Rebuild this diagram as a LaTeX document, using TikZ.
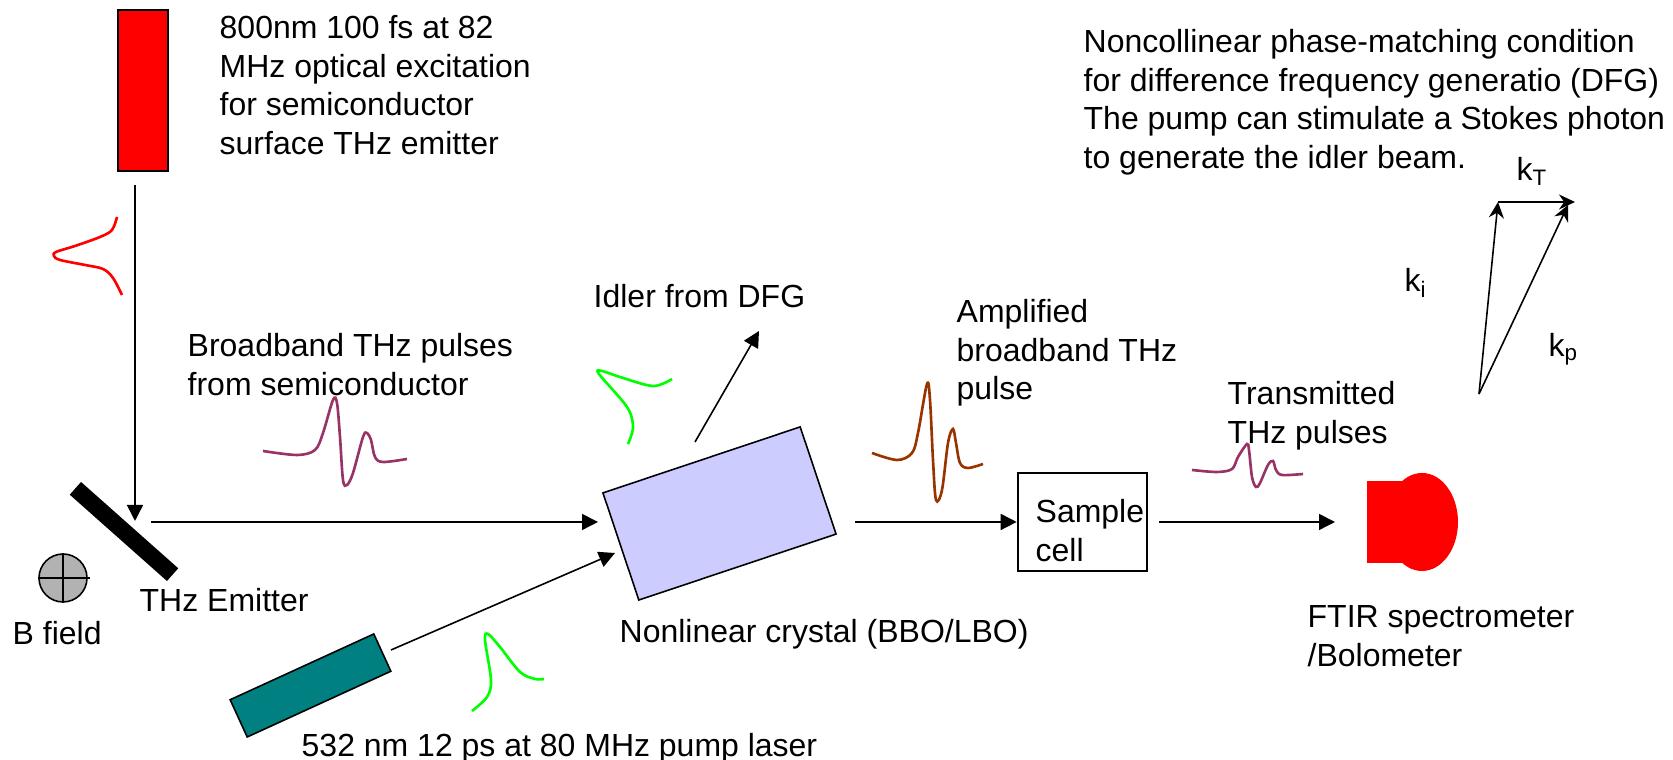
\documentclass[tikz,border=0pt]{standalone}
\usepackage{fontspec}
\setmainfont{Liberation Sans}
\usetikzlibrary{arrows.meta, positioning, calc, shapes.geometric}
\definecolor{thzpurple}{HTML}{993366}
\definecolor{thzbrown}{HTML}{993300}
\definecolor{crystalblue}{HTML}{CCCCFF}
\definecolor{pumpteal}{HTML}{008080}
\definecolor{fieldgrey}{HTML}{B2B2B2}
\definecolor{pulsegreen}{HTML}{00FF00}
\tikzset{
  textlabel/.style={anchor=north west, inner sep=0pt, align=left, font=\fontsize{9.1}{10.95}\selectfont},
  beam/.style={line width=0.45pt, -{Triangle[length=1.6mm,width=1.6mm]}},
  wavevec/.style={line width=0.45pt, -{Stealth[length=1.6mm,width=1.5mm]}},
  pulse/.style={line width=0.75pt, smooth, tension=0.55},
  optic/.style={draw=black, line width=0.45pt, inner sep=0pt}
}

\begin{document}
\begin{tikzpicture}
      \useasboundingbox (0,0) rectangle (16.73,7.6);

      % sources and optics
      \node[optic, fill=red, minimum width=0.5cm, minimum height=1.61cm] (laser) at (1.43,6.695) {};
      \node[fill=black, inner sep=0pt, minimum width=1.3cm, minimum height=0.17cm, rotate=-41.6] (emitter) at (1.24,2.285) {};
      \node[optic, circle, fill=fieldgrey, minimum size=0.48cm] (bfield) at (0.63,1.82) {};
      \draw[line width=0.45pt] (bfield.north) -- (bfield.south);
      \draw[line width=0.45pt] (bfield.west) -- ($(bfield.east)+(0.02,0)$);
      \node[optic, fill=crystalblue, minimum width=2.08cm, minimum height=1.13cm, rotate=18.5] (crystal) at (7.195,2.465) {};
      \node[optic, fill=pumpteal, minimum width=1.58cm, minimum height=0.41cm, rotate=24.6] (pump) at (3.105,0.745) {};
      \node[draw=black, line width=0.75pt, inner sep=0pt, minimum width=1.29cm, minimum height=0.98cm] (samplecell) at (10.825,2.38) {};
      \node[ellipse, fill=red, inner sep=0pt, minimum width=0.72cm, minimum height=0.98cm] (ftir) at (14.22,2.38) {};
      \node[fill=red, inner sep=0pt, minimum width=0.36cm, minimum height=0.82cm] (ftirbase) at (13.85,2.38) {};

      % beam ends
      \coordinate (laserbeam) at (1.35,5.75);
      \coordinate (emitterhit) at (1.35,2.39);
      \coordinate (thzstart) at (1.51,2.38);
      \coordinate (thzend) at (5.98,2.38);
      \coordinate (idlerstart) at (6.95,3.18);
      \coordinate (idlerend) at (7.59,4.29);
      \coordinate (pumpstart) at (3.91,1.10);
      \coordinate (pumpend) at (6.15,2.07);
      \coordinate (ampstart) at (8.55,2.38);
      \coordinate (samplestart) at (11.59,2.38);
      \coordinate (ftirend) at (13.35,2.38);

      \draw[beam] (laserbeam) -- (emitterhit);
      \draw[beam] (thzstart) -- (thzend);
      \draw[beam] (idlerstart) -- (idlerend);
      \draw[beam] (pumpstart) -- (pumpend);
      \draw[beam] (ampstart) -- (samplecell.west);
      \draw[beam] (samplestart) -- (ftirend);

      % pulses
      \draw[pulse, red] plot coordinates {(1.17,5.43) (1.12,5.30) (1.00,5.23) (0.75,5.14) (0.56,5.08) (0.54,5.04) (0.60,5.00) (0.85,4.95) (1.03,4.91) (1.13,4.82) (1.22,4.65)};
      \draw[pulse, thzpurple] plot coordinates {(2.63,3.09) (2.97,3.05) (3.15,3.10) (3.23,3.27) (3.33,3.60) (3.37,3.57) (3.40,3.23) (3.43,2.80) (3.47,2.75) (3.53,2.87) (3.63,3.23) (3.67,3.27) (3.71,3.20) (3.75,3.03) (3.83,2.98) (4.07,3.01)};
      \draw[pulse, thzbrown] plot coordinates {(8.72,3.07) (8.97,3.00) (9.12,3.07) (9.18,3.27) (9.27,3.76) (9.30,3.60) (9.33,3.00) (9.36,2.60) (9.42,2.70) (9.48,3.17) (9.53,3.31) (9.56,3.17) (9.60,2.97) (9.68,2.92) (9.83,2.96)};
      \draw[pulse, thzpurple] plot coordinates {(11.92,2.90) (12.17,2.88) (12.32,2.91) (12.38,3.03) (12.47,3.16) (12.49,3.10) (12.52,2.83) (12.56,2.73) (12.60,2.77) (12.68,2.95) (12.73,2.99) (12.76,2.90) (12.82,2.85) (13.03,2.86)};
      \draw[pulse, pulsegreen] plot coordinates {(6.28,3.16) (6.33,3.33) (6.27,3.53) (5.99,3.86) (6.02,3.89) (6.20,3.83) (6.53,3.74) (6.72,3.81)};
      \draw[pulse, pulsegreen] plot coordinates {(4.72,0.49) (4.87,0.63) (4.91,0.80) (4.85,1.20) (4.88,1.26) (5.00,1.13) (5.20,0.88) (5.35,0.81) (5.44,0.81)};

      % phase matching triangle
      \coordinate (kstart) at (14.79,3.66);
      \coordinate (kmid) at (14.98,5.58);
      \coordinate (kend) at (15.75,5.58);
      \coordinate (kpend) at (15.68,5.55);
      \draw[wavevec] (kstart) -- (kmid);
      \draw[wavevec] (kmid) -- (kend);
      \draw[wavevec] (kstart) -- (kpend);

      % labels
      \node[textlabel] (lasertext) at (2.19,7.45) {800nm 100 fs at 82\\MHz optical excitation\\for semiconductor\\surface THz emitter};
      \node[textlabel] (phasetext) at (10.83,7.31) {Noncollinear phase-matching condition\\for difference frequency generatio (DFG)\\The pump can stimulate a Stokes photon\\to generate the idler beam.};
      \node[textlabel] (thztext) at (1.87,4.27) {Broadband THz pulses\\from semiconductor};
      \node[textlabel] (idlertext) at (5.93,4.76) {Idler from DFG};
      \node[textlabel] (amptext) at (9.56,4.61) {Amplified\\broadband THz\\pulse};
      \node[textlabel] (transtext) at (12.27,3.79) {Transmitted\\THz pulses};
      \node[textlabel] (emittertext) at (1.39,1.72) {THz Emitter};
      \node[textlabel] (fieldtext) at (0.12,1.39) {B field};
      \node[textlabel] (crystaltext) at (6.19,1.41) {Nonlinear crystal (BBO/LBO)};
      \node[textlabel] (pumptext) at (3.01,0.27) {532 nm 12 ps at 80 MHz pump laser};
      \node[textlabel] (sampletext) at (10.35,2.61) {Sample\\cell};
      \node[textlabel] (ftirtext) at (13.07,1.55) {FTIR spectrometer\\/Bolometer};
      \node[textlabel] (ktext) at (15.16,6.03) {k\textsubscript{T}};
      \node[textlabel] (kitext) at (14.04,4.92) {k\textsubscript{i}};
      \node[textlabel] (kptext) at (15.48,4.27) {k\textsubscript{p}};
    \end{tikzpicture}
\end{document}
